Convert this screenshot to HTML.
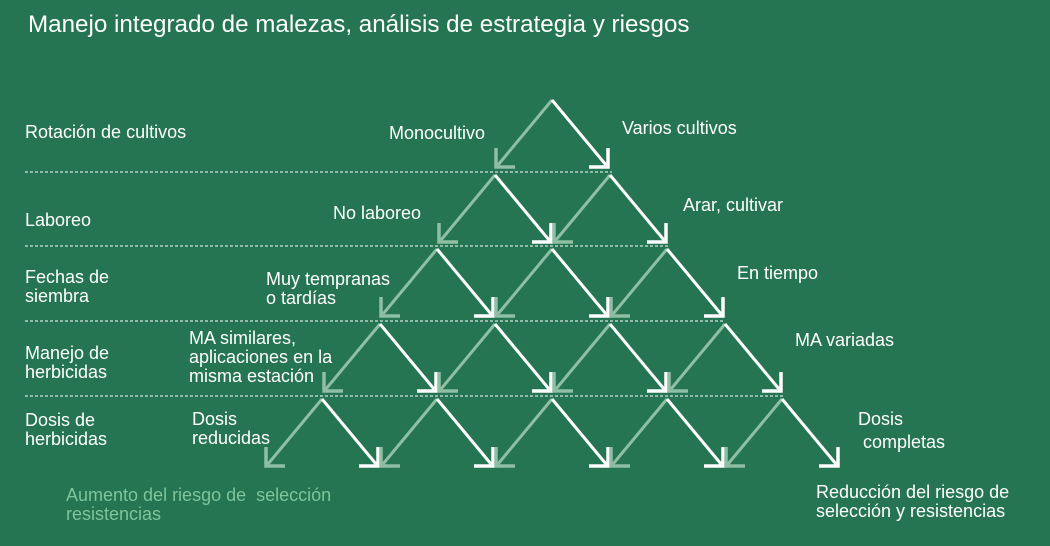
<!DOCTYPE html>
<html><head><meta charset="utf-8"><style>
html,body{margin:0;padding:0}
body{width:1050px;height:546px;background:#257552;overflow:hidden;position:relative;font-family:"Liberation Sans",sans-serif;color:#fff}
.t{position:absolute;font-size:18px;line-height:19px;white-space:nowrap}
</style></head><body>
<div class="t" style="left:28px;top:11px;font-size:24.2px;line-height:28px">Manejo integrado de malezas, análisis de estrategia y riesgos</div>
<div class="t" style="left:25px;top:123px">Rotación de cultivos</div>
<div class="t" style="left:25px;top:211px">Laboreo</div>
<div class="t" style="left:25px;top:268px">Fechas de<br>siembra</div>
<div class="t" style="left:25px;top:344px">Manejo de<br>herbicidas</div>
<div class="t" style="left:25px;top:411px">Dosis de<br>herbicidas</div>
<div class="t" style="left:389px;top:124px">Monocultivo</div>
<div class="t" style="left:622px;top:119px">Varios cultivos</div>
<div class="t" style="left:333px;top:204px">No laboreo</div>
<div class="t" style="left:683px;top:196px">Arar, cultivar</div>
<div class="t" style="left:266px;top:270px">Muy tempranas<br>o tardías</div>
<div class="t" style="left:737px;top:264px">En tiempo</div>
<div class="t" style="left:189px;top:329px">MA similares,<br>aplicaciones en la<br>misma estación</div>
<div class="t" style="left:795px;top:331px">MA variadas</div>
<div class="t" style="left:192px;top:410px">Dosis<br>reducidas</div>
<div class="t" style="left:858px;top:408px;line-height:23px">Dosis<br>&nbsp;completas</div>
<div class="t" style="left:66px;top:486px;color:#7fc49a">Aumento del riesgo de &nbsp;selección<br>resistencias</div>
<div class="t" style="left:816px;top:483px">Reducción del riesgo de<br>selección y resistencias</div>
<svg width="1050" height="546" style="position:absolute;left:0;top:0" id="s"></svg>
<script>
var s=document.getElementById('s'),h='';
var lines=[[172,612],[246,668],[321,725],[396,783]];
lines.forEach(function(l){h+='<line x1="25" y1="'+l[0]+'" x2="'+l[1]+'" y2="'+l[0]+'" stroke="#fff" stroke-width="1" stroke-dasharray="3,2"/>';});
var rows=[[100,[552]],[175,[495,610]],[249,[437,552,667]],[324,[380,495,610,725]],[399,[322,437,552,667,782]]];
rows.forEach(function(r){var y=r[0],ty=y+67;r[1].forEach(function(x){
 var lx=x-56,rx=x+56,L='#8fbfa5',W='#fff';
 h+='<path d="M'+x+' '+y+'L'+(lx+2)+' '+(ty-2)+'" stroke="'+L+'" stroke-width="3" fill="none"/>';
 h+='<path d="M'+lx+' '+(ty-19)+'L'+lx+' '+ty+'L'+(lx+19)+' '+ty+'" stroke="'+L+'" stroke-width="3.5" fill="none"/>';
 h+='<path d="M'+x+' '+y+'L'+(rx-2)+' '+(ty-2)+'" stroke="'+W+'" stroke-width="3" fill="none"/>';
 h+='<path d="M'+rx+' '+(ty-19)+'L'+rx+' '+ty+'L'+(rx-19)+' '+ty+'" stroke="'+W+'" stroke-width="3.5" fill="none"/>';
});});
s.innerHTML=h;
</script>
</body></html>
